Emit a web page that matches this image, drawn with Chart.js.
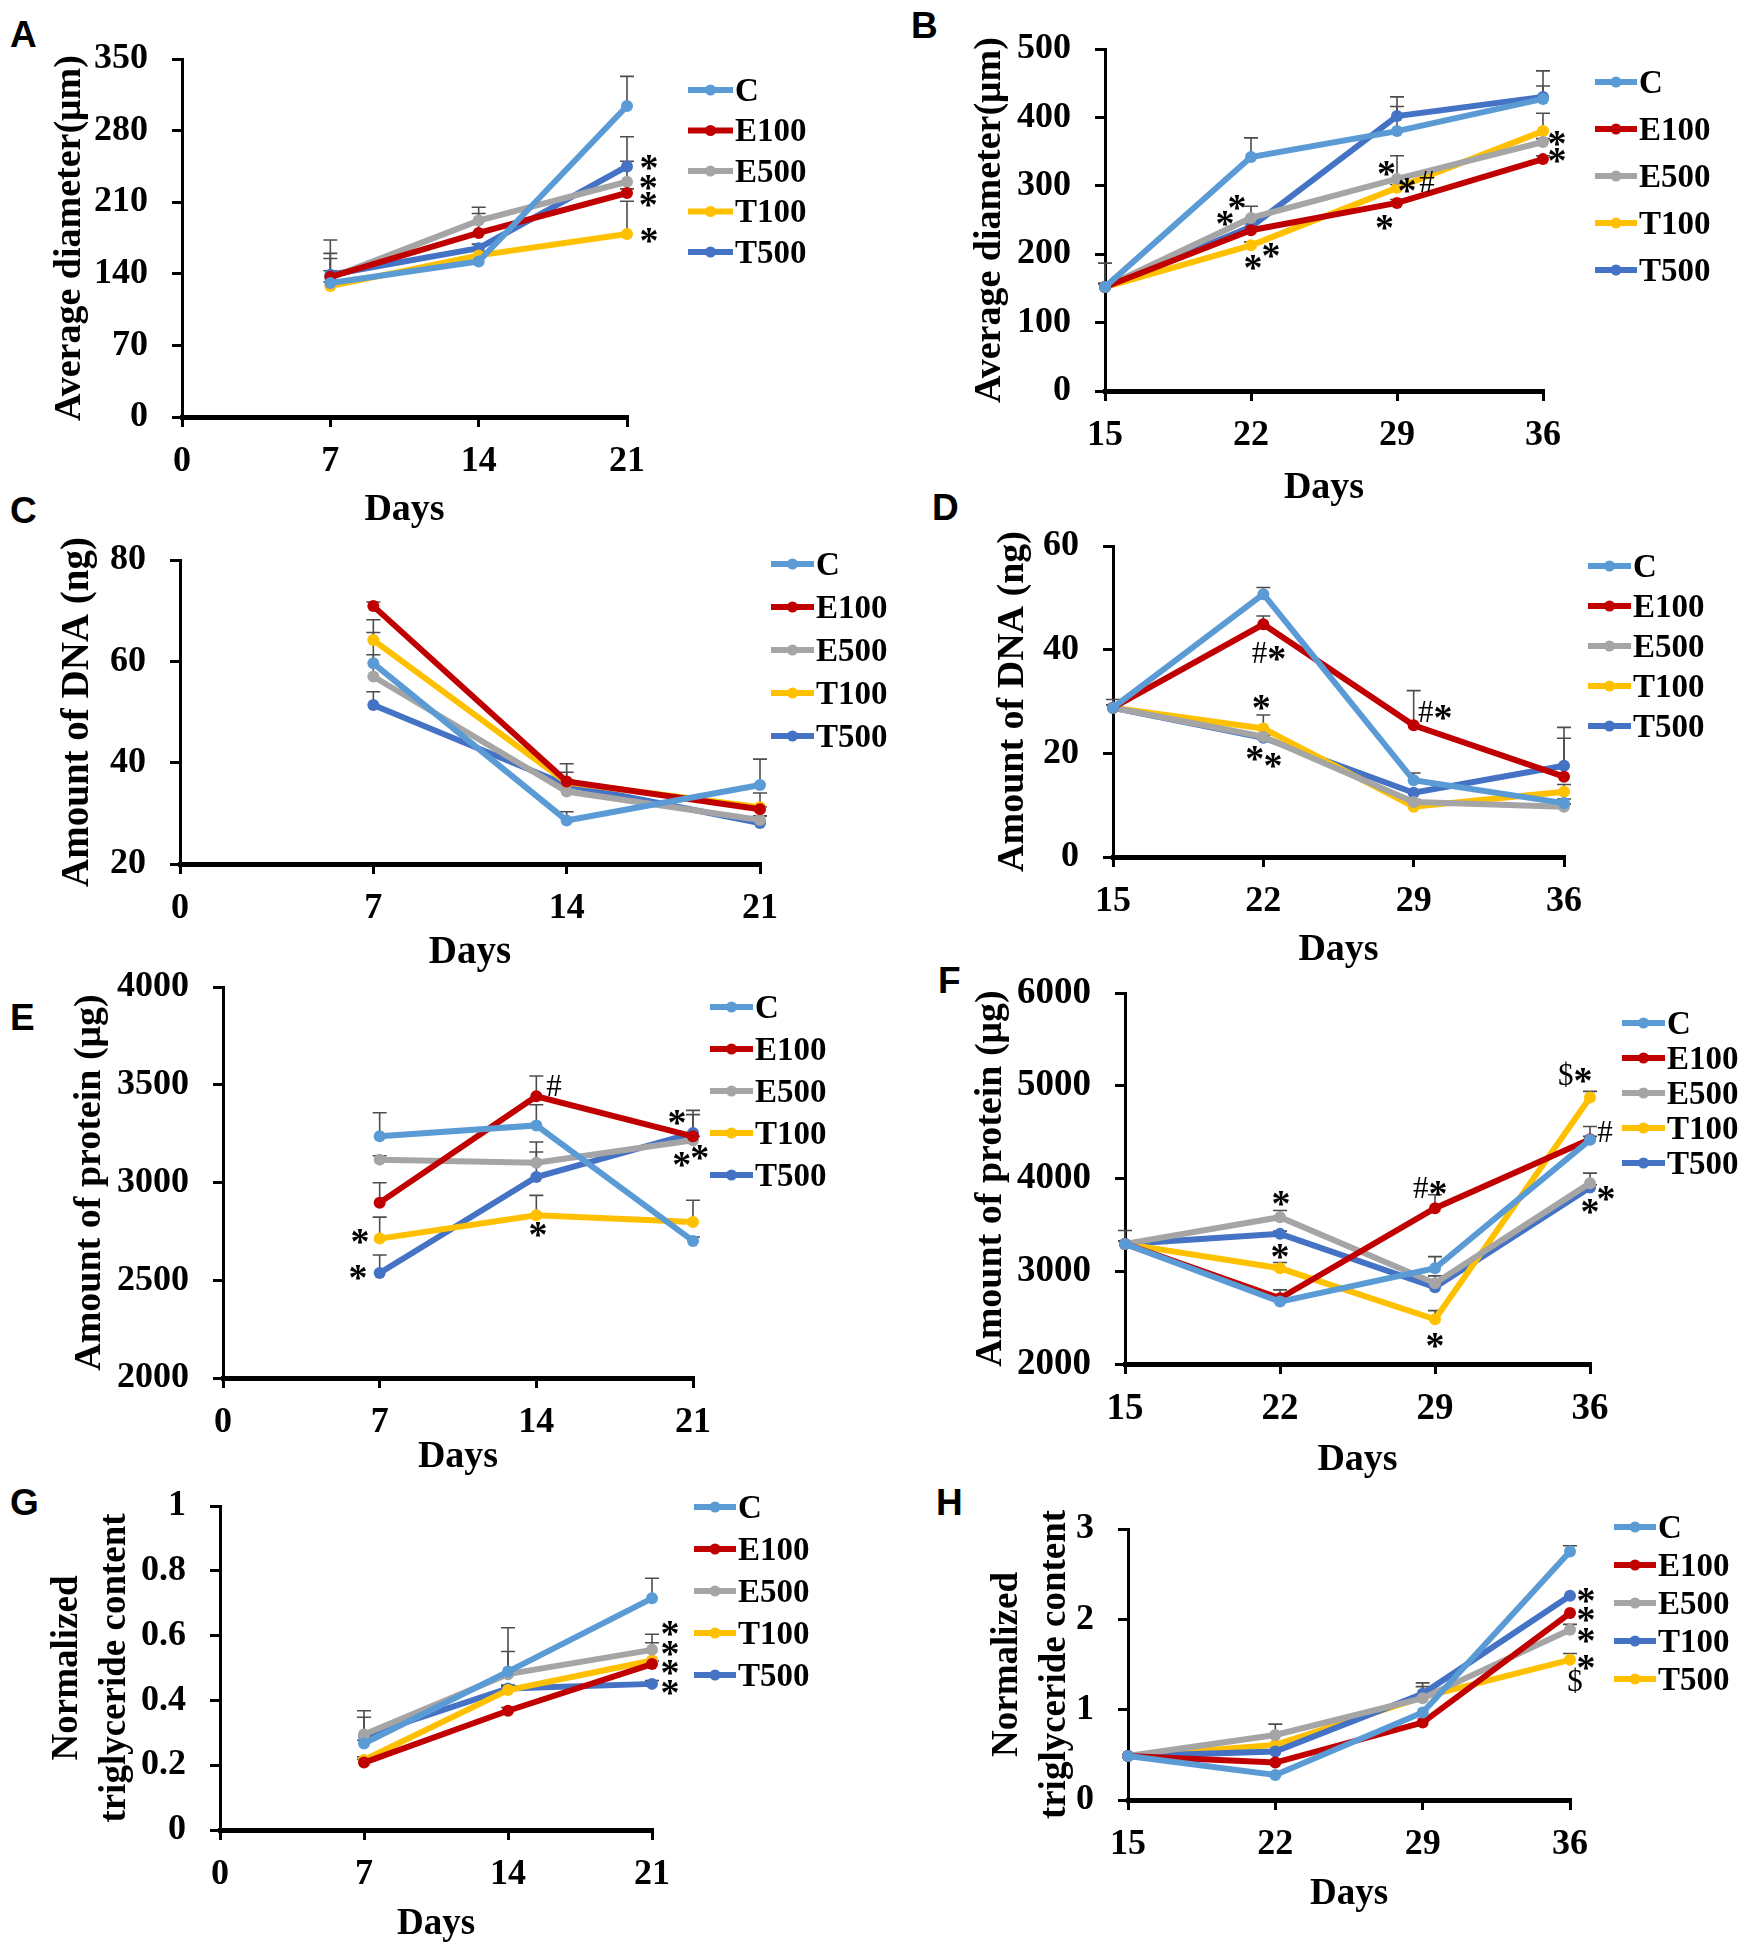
<!DOCTYPE html>
<html><head><meta charset="utf-8">
<script src="https://cdn.jsdelivr.net/npm/chart.js@4.4.1/dist/chart.umd.min.js"></script>
<style>
html,body{margin:0;padding:0;background:#fff;}
body{width:1746px;height:1950px;position:relative;overflow:hidden;}
canvas{position:absolute;}
.lbl{position:absolute;font-family:'Liberation Sans',Arial,sans-serif;font-weight:bold;font-size:37px;line-height:1;transform:translateY(-50%);color:#000;}
</style></head><body>
<div class="lbl" style="left:10px;top:34px">A</div>
<div class="lbl" style="left:911px;top:25px">B</div>
<div class="lbl" style="left:10px;top:510px">C</div>
<div class="lbl" style="left:932px;top:507px">D</div>
<div class="lbl" style="left:10px;top:1017px">E</div>
<div class="lbl" style="left:938px;top:980px">F</div>
<div class="lbl" style="left:10px;top:1502px">G</div>
<div class="lbl" style="left:936px;top:1502px">H</div>
<script>
// ---------- categories / series ----------
const SERIES = ['C','E100','E500','T100','T500'];
const SERIES_H = ['C','E100','E500','T100','T500'];
const COLORS = ['#5B9BD5','#C00000','#A5A5A5','#FFC000','#4472C4'];
const COLORS_H = ['#5B9BD5','#C00000','#A5A5A5','#4472C4','#FFC000'];
const daysEarly = [7,14,21];
const daysLate = [15,22,29,36];
const xTicksEarly = [0,7,14,21];
const xTicksLate = [15,22,29,36];

// ---------- tick labels ----------
const yTicksA = [0,70,140,210,280,350];
const yTicksB = [0,100,200,300,400,500];
const yTicksC = [20,40,60,80];
const yTicksD = [0,20,40,60];
const yTicksE = [2000,2500,3000,3500,4000];
const yTicksF = [2000,3000,4000,5000,6000];
const yTicksG = [0,0.2,0.4,0.6,0.8,1];
const yTicksH = [0,1,2,3];
const yLabelsG = ['0','0.2','0.4','0.6','0.8','1'];

// ---------- A: average diameter, early ----------
const A_C    = [131,152,304];
const A_E100 = [137,180,219];
const A_E500 = [136,192,230];
const A_T100 = [128,158,179];
const A_T500 = [139,165,245];
const A_errC = [29,5,29], A_errE100 = [36,19,4], A_errE500 = [19,13,20], A_errT100 = [4,4,32], A_errT500 = [4,4,29];

// ---------- B: average diameter, late ----------
const B_C    = [152,342,380,427];
const B_E100 = [152,235,275,339];
const B_E500 = [152,253,310,364];
const B_T100 = [152,213,297,380];
const B_T500 = [152,240,402,430];
const B_errC = [35,28,36,41], B_errE100 = [5,5,5,5], B_errE500 = [5,17,34,5], B_errT100 = [5,5,5,26], B_errT500 = [5,5,28,16];

// ---------- C: DNA, early ----------
const C_C    = [59.6,28.6,35.6];
const C_E100 = [70.9,36.3,30.8];
const C_E500 = [57.0,34.3,28.7];
const C_T100 = [64.2,36.1,31.2];
const C_T500 = [51.4,35.6,28.1];
const C_errC = [6.1,1.7,5.1], C_errE100 = [0.8,3.5,0.5], C_errE500 = [4.3,1.5,0.8], C_errT100 = [4.0,2.0,2.8], C_errT500 = [2.6,1.0,1.4];

// ---------- D: DNA, late ----------
const D_C    = [28.8,50.7,14.8,10.4];
const D_E100 = [28.8,44.9,25.4,15.5];
const D_E500 = [28.8,23.2,10.6,9.7];
const D_T100 = [28.8,24.8,9.7,12.6];
const D_T500 = [28.8,23.0,12.4,17.6];
const D_errC = [1.6,1.3,1.4,0.8], D_errE100 = [0.5,1.6,6.7,7.4], D_errE500 = [0.5,0.5,0.5,0.5], D_errT100 = [0.5,2.6,0.5,1.4], D_errT500 = [0.5,0.5,0.5,7.4];

// ---------- E: protein, early ----------
const E_C    = [3236,3292,2701];
const E_E100 = [2897,3441,3236];
const E_E500 = [3117,3101,3216];
const E_T100 = [2713,2832,2798];
const E_T500 = [2537,3028,3253];
const E_errC = [121,106,20], E_errE100 = [102,104,133], E_errE500 = [20,106,20], E_errT100 = [110,102,111], E_errT500 = [92,128,94];

// ---------- F: protein, late ----------
const F_C    = [3295,2673,3032,4417];
const F_E100 = [3295,2709,3680,4424];
const F_E500 = [3295,3583,2871,3950];
const F_T100 = [3295,3032,2482,4874];
const F_T500 = [3295,3403,2827,3903];
const F_errC = [144,30,126,144], F_errE100 = [30,90,144,30], F_errE500 = [30,72,79,108], F_errT100 = [30,62,94,65], F_errT500 = [30,30,30,30];

// ---------- G: triglyceride, early ----------
const G_C    = [0.267,0.489,0.715];
const G_E100 = [0.208,0.368,0.512];
const G_E500 = [0.295,0.481,0.556];
const G_T100 = [0.216,0.432,0.523];
const G_T500 = [0.290,0.437,0.451];
const G_errC = [0.01,0.135,0.062], G_errE100 = [0.01,0.01,0.01], G_errE500 = [0.073,0.07,0.048], G_errT100 = [0.01,0.01,0.055], G_errT500 = [0.058,0.01,0.01];

// ---------- H: triglyceride, late ----------
const H_C    = [0.488,0.277,0.968,2.752];
const H_E100 = [0.488,0.414,0.857,2.069];
const H_E500 = [0.488,0.72,1.127,1.884];
const H_T100 = [0.488,0.536,1.175,2.261];
const H_T500 = [0.488,0.61,1.138,1.552];
const H_errC = [0,0,0,0.063], H_errE100 = [0,0,0,0], H_errE500 = [0,0.12,0.17,0.06], H_errT100 = [0,0,0.08,0], H_errT500 = [0,0,0,0.07];

// ---------- significance marks: [day, value, text] ----------
const annA = [[22.04,249,'*'],[22.0,230,'*'],[22.0,213,'*'],[22.04,178,'*']];
const annB = [[20.75,253,'*'],[21.33,276,'*'],[22.1,189,'*'],[22.96,206,'*'],[28.5,326,'*'],[29.48,301,'*'],[30.44,306,'#'],[28.4,247,'*'],[36.67,370,'*'],[36.67,345,'*']];
const annC = [];
const annD = [[22.26,39.4,'#*'],[21.9,29.9,'*'],[21.6,20.0,'*'],[22.45,18.7,'*'],[30.0,28.0,'#*']];
const annE = [[14.79,3497,'#'],[6.12,2725,'*'],[6.03,2542,'*'],[14.08,2759,'*'],[20.29,3335,'*'],[20.5,3117,'*'],[21.3,3156,'*']];
const annF = [[22.05,3788,'*'],[22.0,3212,'*'],[28.78,3896,'#*'],[29.0,2259,'*'],[35.33,5119,'$*'],[36.68,4507,'#'],[36.0,3698,'*'],[36.72,3842,'*']];
const annG = [[21.88,0.622,'*'],[21.88,0.561,'*'],[21.88,0.502,'*'],[21.88,0.440,'*']];
const annH = [[36.76,2.27,'*'],[36.76,2.06,'*'],[36.76,1.82,'*'],[36.76,1.53,'*'],[36.24,1.32,'$']];

// ---------- panel definitions (layout/styling separate from data) ----------
const panels = [
 {id:'A', days:daysEarly, xTicks:xTicksEarly, yTicks:yTicksA, names:SERIES, colors:COLORS,
  values:[A_C,A_E100,A_E500,A_T100,A_T500], errors:[A_errC,A_errE100,A_errE500,A_errT100,A_errT500],
  yTitle:'Average diameter(μm)', ann:annA,
  box:{L:182,R:627,T:59,B:417,yT:70,xT:510,padR:240,tick:36,ttl:38}, leg:{dx:61,dy:31,sp:40.5,len:45}},
 {id:'B', days:daysLate, xTicks:xTicksLate, yTicks:yTicksB, names:SERIES, colors:COLORS,
  values:[B_C,B_E100,B_E500,B_T100,B_T500], errors:[B_errC,B_errE100,B_errE500,B_errT100,B_errT500],
  yTitle:'Average diameter(μm)', ann:annB,
  box:{L:1105,R:1543,T:49,B:391,yT:990,xT:488,padR:203,tick:36,ttl:38}, leg:{dx:52,dy:33,sp:47,len:42}},
 {id:'C', days:daysEarly, xTicks:xTicksEarly, yTicks:yTicksC, names:SERIES, colors:COLORS,
  values:[C_C,C_E100,C_E500,C_T100,C_T500], errors:[C_errC,C_errE100,C_errE500,C_errT100,C_errT500],
  yTitle:'Amount of DNA (ng)', ann:annC,
  box:{L:180,R:760,T:560,B:864,yT:78,xT:953,padR:240,tick:36,ttl:39}, leg:{dx:11,dy:4,sp:43,len:43}},
 {id:'D', days:daysLate, xTicks:xTicksLate, yTicks:yTicksD, names:SERIES, colors:COLORS,
  values:[D_C,D_E100,D_E500,D_T100,D_T500], errors:[D_errC,D_errE100,D_errE500,D_errT100,D_errT500],
  yTitle:'Amount of DNA (ng)', ann:annD,
  box:{L:1113,R:1564,T:546,B:857,yT:1013,xT:950,padR:182,tick:36,ttl:38}, leg:{dx:24,dy:20,sp:40,len:43}},
 {id:'E', days:daysEarly, xTicks:xTicksEarly, yTicks:yTicksE, names:SERIES, colors:COLORS,
  values:[E_C,E_E100,E_E500,E_T100,E_T500], errors:[E_errC,E_errE100,E_errE500,E_errT100,E_errT500],
  yTitle:'Amount of protein (μg)', ann:annE,
  box:{L:223,R:693,T:987,B:1378,yT:90,xT:1457,padR:240,tick:36,ttl:38}, leg:{dx:17,dy:20,sp:42,len:43}},
 {id:'F', days:daysLate, xTicks:xTicksLate, yTicks:yTicksF, names:SERIES, colors:COLORS,
  values:[F_C,F_E100,F_E500,F_T100,F_T500], errors:[F_errC,F_errE100,F_errE500,F_errT100,F_errT500],
  yTitle:'Amount of protein (μg)', ann:annF,
  box:{L:1125,R:1590,T:993,B:1364,yT:991,xT:1460,padR:156,tick:37,ttl:38}, leg:{dx:32,dy:30,sp:35,len:43}},
 {id:'G', days:daysEarly, xTicks:xTicksEarly, yTicks:yTicksG, yLabels:yLabelsG, names:SERIES, colors:COLORS,
  values:[G_C,G_E100,G_E500,G_T100,G_T500], errors:[G_errC,G_errE100,G_errE500,G_errT100,G_errT500],
  yTitle:['Normalized','triglyceride content'], ann:annG,
  box:{L:220,R:652,T:1506,B:1830,yT:67,xT:1925,padR:240,tick:36,ttl:37}, leg:{dx:42,dy:1,sp:42,len:42}},
 {id:'H', days:daysLate, xTicks:xTicksLate, yTicks:yTicksH, names:SERIES_H, colors:COLORS_H,
  values:[H_C,H_E100,H_E500,H_T100,H_T500], errors:[H_errC,H_errE100,H_errE500,H_errT100,H_errT500],
  yTitle:['Normalized','triglyceride content'], ann:annH,
  box:{L:1128,R:1570,T:1529,B:1800,yT:1007,xT:1895,padR:176,tick:36,ttl:37}, leg:{dx:44,dy:-2,sp:38,len:42}}
];

const SERIF = '"Liberation Serif","Times New Roman",serif';
const LINE_W = 6;

const errPlugin = {
  id:'errbars',
  beforeDatasetsDraw(chart){
    const ctx = chart.ctx, xs = chart.scales.x, ys = chart.scales.y;
    ctx.save();
    ctx.strokeStyle = '#4d4d4d';
    ctx.lineWidth = 1.6;
    chart.data.datasets.forEach(ds => {
      ds.data.forEach((pt, j) => {
        const e = ds.errors ? ds.errors[j] : 0;
        if (!e) return;
        const px = xs.getPixelForValue(pt.x);
        const py = ys.getPixelForValue(pt.y);
        const pe = ys.getPixelForValue(pt.y + e);
        ctx.beginPath();
        ctx.moveTo(px, py); ctx.lineTo(px, pe);
        ctx.moveTo(px - 7, pe); ctx.lineTo(px + 7, pe);
        ctx.stroke();
      });
    });
    ctx.restore();
  }
};

function glyphFont(ch){
  return ch === '*' ? 'bold 38px ' + SERIF : '31px ' + SERIF;
}
function glyphShift(ch){
  return ch === '*' ? 0.47*38 : 0.33*31;
}

function annPlugin(p){
  return {
    id:'ann'+p.id,
    afterDatasetsDraw(chart){
      const ctx = chart.ctx, xs = chart.scales.x, ys = chart.scales.y;
      ctx.save();
      ctx.fillStyle = '#000';
      ctx.textBaseline = 'alphabetic';
      ctx.textAlign = 'left';
      p.ann.forEach(([d, v, txt]) => {
        const cx = xs.getPixelForValue(d), cy = ys.getPixelForValue(v);
        const chars = txt.split('');
        const widths = chars.map(ch => { ctx.font = glyphFont(ch); return ctx.measureText(ch).width; });
        const total = widths.reduce((a,b)=>a+b, 0);
        let x = cx - total/2;
        chars.forEach((ch, i) => {
          ctx.font = glyphFont(ch);
          ctx.fillText(ch, x, cy + glyphShift(ch));
          x += widths[i];
        });
      });
      ctx.restore();
    }
  };
}

function legendPlugin(p){
  return {
    id:'leg'+p.id,
    afterDraw(chart){
      const ctx = chart.ctx, ca = chart.chartArea;
      const x0 = ca.right + p.leg.dx;
      chart.data.datasets.forEach((ds, i) => {
        const y = ca.top + p.leg.dy + i*p.leg.sp;
        ctx.save();
        ctx.strokeStyle = ds.borderColor;
        ctx.lineWidth = LINE_W;
        ctx.beginPath(); ctx.moveTo(x0, y); ctx.lineTo(x0 + p.leg.len, y); ctx.stroke();
        ctx.fillStyle = ds.borderColor;
        ctx.beginPath(); ctx.arc(x0 + p.leg.len/2, y, 5.5, 0, 2*Math.PI); ctx.fill();
        ctx.fillStyle = '#000';
        ctx.font = 'bold 33px ' + SERIF;
        ctx.textBaseline = 'middle';
        ctx.textAlign = 'left';
        ctx.fillText(ds.label, x0 + p.leg.len + 2, y + 2);
        ctx.restore();
      });
    }
  };
}

function build(p){
  const b = p.box;
  const twoLine = Array.isArray(p.yTitle);
  const LHy = b.ttl * (twoLine ? 1.3 : 1.2);
  const LHx = b.ttl * 1.2;
  const padTop = 50;
  const left = Math.round(b.yT - LHy/2);
  const top = b.T - padTop;
  const right = b.R + b.padR;
  const bottom = Math.round(b.xT + LHx/2);
  const W = right - left, H = bottom - top;
  const Wy = b.L - left, Hx = bottom - b.B;
  const tickFont = {family:SERIF, size:b.tick, weight:'bold'};

  const cv = document.createElement('canvas');
  cv.width = W; cv.height = H;
  cv.style.left = left + 'px'; cv.style.top = top + 'px';
  cv.style.width = W + 'px'; cv.style.height = H + 'px';
  document.body.appendChild(cv);

  const datasets = p.values.map((v, i) => ({
    label: p.names[i],
    data: p.days.map((d, j) => ({x:d, y:v[j]})),
    errors: p.errors[i],
    borderColor: p.colors[i],
    backgroundColor: p.colors[i],
    pointBackgroundColor: p.colors[i],
    pointBorderColor: p.colors[i],
    pointBorderWidth: 0,
    pointRadius: 6,
    borderWidth: LINE_W,
    tension: 0,
    clip: false
  }));

  const yLabelOf = (val) => {
    const idx = p.yTicks.findIndex(t => Math.abs(t - val) < 1e-9);
    if (p.yLabels && idx >= 0) return p.yLabels[idx];
    return String(val);
  };

  new Chart(cv.getContext('2d'), {
    type:'line',
    data:{datasets},
    options:{
      responsive:false,
      animation:false,
      layout:{padding:{left:0, top:padTop, right:b.padR, bottom:0}},
      plugins:{legend:{display:false}, tooltip:{enabled:false}},
      scales:{
        x:{
          type:'linear',
          min:p.xTicks[0], max:p.xTicks[p.xTicks.length-1],
          afterBuildTicks: s => { s.ticks = p.xTicks.map(v => ({value:v})); },
          afterFit: s => { s.height = Hx; },
          ticks:{font:tickFont, color:'#000', padding:13, maxRotation:0, autoSkip:false, callback: v => String(v)},
          grid:{display:true, drawOnChartArea:false, drawTicks:true, tickLength:10, color:'#000', lineWidth:3},
          border:{display:true, color:'#000', width:5},
          title:{display:true, text:'Days', color:'#000', padding:0, font:{family:SERIF, size:b.ttl, weight:'bold', lineHeight:1.2}}
        },
        y:{
          type:'linear',
          min:p.yTicks[0], max:p.yTicks[p.yTicks.length-1],
          afterBuildTicks: s => { s.ticks = p.yTicks.map(v => ({value:v})); },
          afterFit: s => { s.width = Wy; },
          ticks:{font:tickFont, color:'#000', padding:24, autoSkip:false, callback: v => yLabelOf(v)},
          grid:{display:true, drawOnChartArea:false, drawTicks:true, tickLength:10, color:'#000', lineWidth:3},
          border:{display:true, color:'#000', width:3},
          title:{display:true, text:p.yTitle, color:'#000', padding:0, font:{family:SERIF, size:b.ttl, weight:'bold', lineHeight: twoLine ? 1.3 : 1.2}}
        }
      }
    },
    plugins:[errPlugin, annPlugin(p), legendPlugin(p)]
  });
}

panels.forEach(build);
</script>
</body></html>
